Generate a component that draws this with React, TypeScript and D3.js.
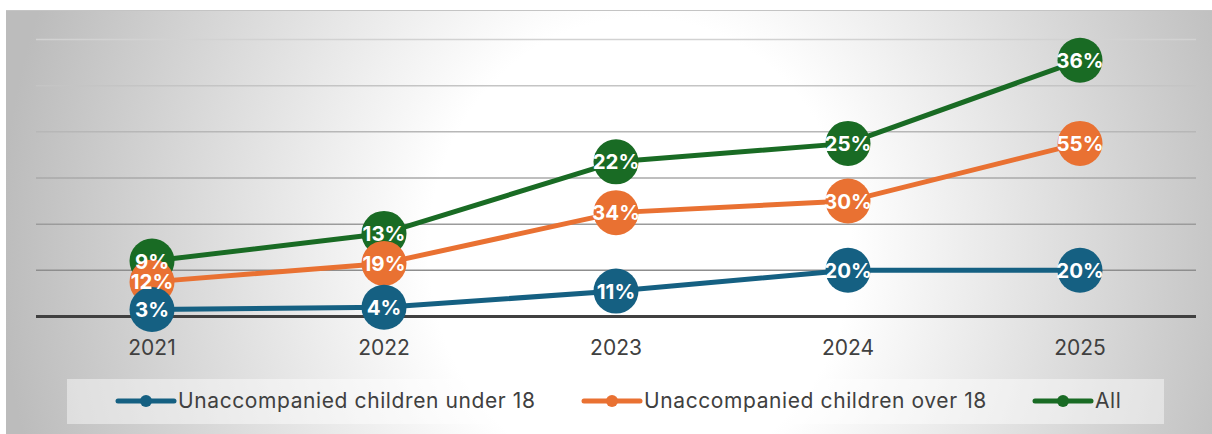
import React from "react";
import * as d3 from "d3";

const years = ["2021", "2022", "2023", "2024", "2025"];
const under18 = [3, 4, 11, 20, 20];
const over18 = [12, 19, 34, 30, 55];
const all = [9, 13, 22, 25, 36];
const seriesNames = ["Unaccompanied children under 18", "Unaccompanied children over 18", "All"];
const seriesColors = ["#156082", "#E97132", "#196B24"];
const yTicks = [0, 20, 40, 60, 80, 100, 120];

const W = 1212;
const H = 434;
const FONT = "Inter, 'Open Sans', sans-serif";

export default function App() {
  const x = d3.scaleBand<string>().domain(years).range([36, 1196]);
  const y = d3.scaleLinear().domain([0, 120]).range([316.5, 39.5]);

  const rows = years.map((yr, i) => ({ year: yr, s0: under18[i], s1: over18[i], s2: all[i] }));
  const stack = d3.stack<any>().keys(["s0", "s1", "s2"]);
  const stacked = stack(rows);
  const raw = [under18, over18, all];

  const cx = (yr: string) => (x(yr) as number) + x.bandwidth() / 2;
  const line = d3
    .line<any>()
    .x((d: any) => cx(d.data.year))
    .y((d: any) => y(d[1]));

  const legendX = [118, 584, 1035];
  const order = [2, 1, 0];

  return (
    <svg width={W} height={H} style={{ position: "absolute", left: 0, top: 0 }}>
      <defs>
        <radialGradient id="bg" gradientUnits="userSpaceOnUse" cx={640} cy={250} r={640}
          gradientTransform="translate(640,250) scale(1,1.1) translate(-640,-250)">
          <stop offset="0" stopColor="#ffffff" />
          <stop offset="0.33" stopColor="#ffffff" />
          <stop offset="1" stopColor="#bcbcbc" />
        </radialGradient>
        <linearGradient id="grid" gradientUnits="userSpaceOnUse" x1={0} y1={40} x2={0} y2={316}>
          <stop offset="0" stopColor="#d2d2d2" />
          <stop offset="1" stopColor="#808080" />
        </linearGradient>
      </defs>
      <rect x={0} y={0} width={W} height={H} fill="#ffffff" />
      <rect x={6} y={10} width={W - 6} height={H - 10} fill="url(#bg)" />
      <line x1={6} x2={W} y1={10.5} y2={10.5} stroke="#c4c4c4" strokeWidth={1} />

      {yTicks.slice(1).map((t) => (
        <line key={t} x1={36} x2={1196} y1={y(t)} y2={y(t)} stroke="url(#grid)" strokeWidth={1.5} />
      ))}
      <line x1={36} x2={1196} y1={y(0)} y2={y(0)} stroke="#404040" strokeWidth={3} />

      {years.map((yr) => (
        <text key={yr} x={cx(yr)} y={355} textAnchor="middle" fontFamily={FONT} fontSize={21} fill="#404040">
          {yr}
        </text>
      ))}

      {order.map((si) => (
        <g key={si}>
          <path d={line(stacked[si] as any) || ""} fill="none" stroke={seriesColors[si]} strokeWidth={5} strokeLinejoin="round" />
          {stacked[si].map((d: any, i: number) => (
            <circle key={i} cx={cx(d.data.year)} cy={y(d[1])} r={22.5} fill={seriesColors[si]} />
          ))}
        </g>
      ))}

      {order.map((si) => (
        <g key={"l" + si}>
          {stacked[si].map((d: any, i: number) => (
            <text
              key={i}
              x={cx(d.data.year)}
              y={y(d[1])}
              dy="0.37em"
              textAnchor="middle"
              fontFamily={FONT}
              fontWeight={700}
              fontSize={20.5}
              fill="#ffffff"
            >
              {raw[si][i] + "%"}
            </text>
          ))}
        </g>
      ))}

      <rect x={67} y={379} width={1097} height={45} fill="#ffffff" fillOpacity={0.45} />
      {seriesNames.map((name, si) => (
        <g key={name} transform={`translate(${legendX[si]},401)`}>
          <line x1={0} x2={56} y1={0} y2={0} stroke={seriesColors[si]} strokeWidth={5} strokeLinecap="round" />
          <circle cx={28} cy={0} r={6} fill={seriesColors[si]} />
          <text x={60} y={6.5} fontFamily={FONT} fontSize={21} letterSpacing={0.6} fill="#404040">
            {name}
          </text>
        </g>
      ))}
    </svg>
  );
}
